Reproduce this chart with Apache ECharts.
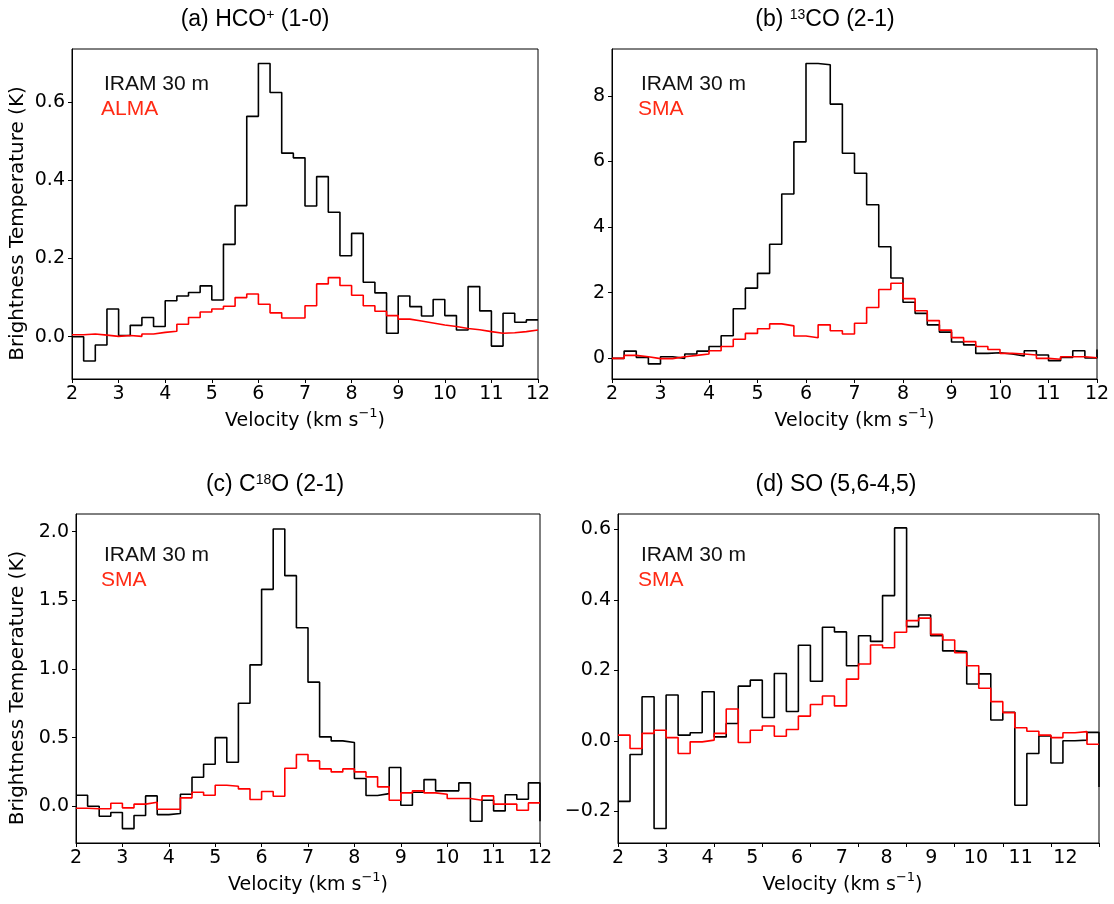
<!DOCTYPE html>
<html><head><meta charset="utf-8">
<script src="https://cdn.jsdelivr.net/npm/echarts@6/dist/echarts.min.js"></script>
<style>html,body{margin:0;padding:0;background:#fff}#c{width:1114px;height:904px}</style>
</head><body><div id="c"></div>
<script>
// ---- data (bin values, 0.25 km/s bins starting at 2 km/s) ----
const binStart = 2.0;
const binWidth = 0.25;
const nBins = 40;

const hcoIram = [0.000,-0.062,-0.021,0.071,0.003,0.029,0.049,0.026,0.092,0.104,
  0.113,0.130,0.094,0.236,0.335,0.563,0.698,0.624,0.469,0.457,
  0.334,0.409,0.318,0.207,0.264,0.139,0.112,0.009,0.104,0.077,
  0.053,0.095,0.054,0.017,0.128,0.066,-0.024,0.060,0.037,0.043];
const hcoAlma = [0.005,0.007,0.004,0.001,0.003,0.001,0.007,0.011,0.014,0.032,
  0.049,0.063,0.071,0.078,0.100,0.109,0.083,0.061,0.048,0.048,
  0.079,0.135,0.151,0.131,0.106,0.079,0.065,0.054,0.045,0.040,
  0.035,0.030,0.026,0.021,0.018,0.013,0.009,0.010,0.013,0.017];

const co13Iram = [0.00,0.22,0.03,-0.17,0.05,0.00,0.13,0.22,0.36,0.69,
  1.51,2.14,2.59,3.48,5.01,6.60,8.99,8.95,7.75,6.25,
  5.64,4.68,3.40,2.45,1.71,1.37,1.02,0.80,0.50,0.41,
  0.15,0.17,0.13,0.07,0.23,0.10,-0.07,0.03,0.23,0.01,
  0.27];
const co13Sma = [0.00,0.09,0.05,-0.01,-0.01,0.05,0.09,0.13,0.23,0.36,
  0.58,0.76,0.90,1.05,0.99,0.68,0.63,1.02,0.84,0.74,
  1.07,1.55,2.10,2.29,1.82,1.45,1.15,0.86,0.63,0.51,
  0.36,0.27,0.15,0.13,0.10,0.00,-0.03,0.05,0.05,0.02];

const c18oIram = [0.080,0.000,-0.073,-0.046,-0.163,-0.068,0.075,-0.061,-0.053,0.087,
  0.211,0.306,0.500,0.320,0.750,1.030,1.580,2.020,1.680,1.300,
  0.904,0.505,0.476,0.464,0.202,0.078,0.092,0.282,0.007,0.102,
  0.194,0.112,0.112,0.170,-0.109,0.044,-0.034,0.083,0.051,0.170,
  -0.109];
const c18oSma = [-0.015,-0.019,-0.019,0.022,-0.012,0.015,0.029,-0.022,-0.022,0.061,
  0.102,0.080,0.153,0.146,0.126,0.049,0.107,0.073,0.277,0.377,
  0.330,0.272,0.250,0.272,0.250,0.214,0.141,0.044,0.097,0.112,
  0.097,0.087,0.056,0.056,0.044,0.075,0.015,0.015,-0.029,0.024];

const soIram = [-0.172,-0.039,0.125,-0.249,0.130,0.016,0.023,0.139,0.011,0.049,
  0.155,0.172,0.066,0.191,0.083,0.271,0.169,0.322,0.309,0.213,
  0.298,0.282,0.412,0.604,0.324,0.357,0.298,0.255,0.253,0.161,
  0.190,0.059,0.081,-0.183,-0.036,0.014,-0.063,0.000,0.002,0.024,
  -0.131];
const soSma = [0.016,-0.022,0.021,0.030,0.009,-0.036,-0.003,0.002,0.021,0.090,
  -0.005,0.030,0.042,0.013,0.032,0.070,0.103,0.127,0.099,0.175,
  0.218,0.272,0.264,0.308,0.341,0.348,0.302,0.286,0.250,0.213,
  0.149,0.111,0.080,0.037,0.027,0.016,0.009,0.023,0.026,-0.010];

// ---- tick labels ----
const xTicks = [2,3,4,5,6,7,8,9,10,11,12];
const yTicksA = [0.0,0.2,0.4,0.6];
const yTicksB = [0,2,4,6,8];
const yTicksC = [0.0,0.5,1.0,1.5,2.0];
const yTicksD = [-0.2,0.0,0.2,0.4,0.6];

// ---- text ----
const panelTitles = ['(a) HCO{sup|+} (1-0)', '(b) {sup|13}CO (2-1)', '(c) C{sup|18}O (2-1)', '(d) SO (5,6-4,5)'];
const refLabels = ['IRAM 30 m', 'IRAM 30 m', 'IRAM 30 m', 'IRAM 30 m'];
const intLabels = ['ALMA', 'SMA', 'SMA', 'SMA'];
const xName = 'Velocity (km s{sup|\u22121})';
const yName = 'Brightness Temperature (K)';

const FONT_AX = 'DejaVu Sans';
const FONT_TXT = 'Liberation Sans';
const RED = '#ff0000';

function stepPoints(vals) {
  const pts = vals.map((v, i) => [binStart + i * binWidth, v]);
  if (vals.length === nBins) pts.push([binStart + nBins * binWidth, vals[nBins - 1]]);
  return pts;
}
const fmt1 = v => (v < 0 ? '\u2212' : '') + Math.abs(v).toFixed(1);
const fmt0 = v => (v < 0 ? '\u2212' : '') + Math.abs(Math.round(v));

const grids = [
  {left: 72, top: 49, width: 466, height: 330},
  {left: 612, top: 49, width: 485, height: 330},
  {left: 76, top: 514, width: 464, height: 329},
  {left: 618, top: 514, width: 481, height: 329}
].map(g => Object.assign({show: true, borderColor: '#000', borderWidth: 1, backgroundColor: 'transparent', outerBoundsMode: 'none'}, g));

const axLabel = {fontSize: 19, fontFamily: FONT_AX, color: '#000'};
const nameStyle = {fontSize: 19, fontFamily: FONT_AX, color: '#000', lineHeight: 28,
  rich: {sup: {fontSize: 13, fontFamily: FONT_AX, color: '#000', verticalAlign: 'top', lineHeight: 14}}};

function xAx(gi, opts) {
  return Object.assign({
    type: 'value', gridIndex: gi, min: 2, max: 12, position: 'bottom',
    splitLine: {show: false},
    axisLine: {show: true, onZero: false, lineStyle: {color: '#000', width: 1}},
    axisTick: {show: true, customValues: xTicks, length: 4, lineStyle: {color: '#000', width: 1}},
    axisLabel: Object.assign({customValues: xTicks, margin: 6}, axLabel),
    name: xName, nameLocation: 'middle', nameGap: 28, nameTextStyle: nameStyle
  }, opts || {});
}
function yAx(gi, min, max, ticks, fmt) {
  return {
    type: 'value', gridIndex: gi, min: min, max: max,
    splitLine: {show: false},
    axisLine: {show: true, onZero: false, lineStyle: {color: '#000', width: 1}},
    axisTick: {show: true, customValues: ticks, length: 4, lineStyle: {color: '#000', width: 1}},
    axisLabel: Object.assign({customValues: ticks, formatter: fmt, margin: 7}, axLabel)
  };
}

const xAxes = [
  xAx(0), xAx(1), xAx(2),
  // (d) data axis: ticks only
  xAx(3, {axisLabel: {show: false}, name: ''}),
  // (d) label axis: labels placed on a different scale, as in the reference
  xAx(3, {max: 12.75, axisLine: {show: false, onZero: false}, axisTick: {show: false},
          nameTextStyle: Object.assign({}, nameStyle, {padding: [0, 32, 0, 0]})})
];
const yAxes = [
  yAx(0, -0.108, 0.735, yTicksA, fmt1),
  yAx(1, -0.63, 9.43, yTicksB, fmt0),
  yAx(2, -0.268, 2.129, yTicksC, fmt1),
  yAx(3, -0.29, 0.6435, yTicksD, fmt1)
];

function line(xi, yi, vals, color) {
  return {type: 'line', xAxisIndex: xi, yAxisIndex: yi, data: stepPoints(vals), step: 'end',
    symbol: 'none', showSymbol: false, clip: true, silent: true,
    lineStyle: {color: color, width: 1.6}};
}
const series = [
  line(0, 0, hcoIram, '#000'), line(0, 0, hcoAlma, RED),
  line(1, 1, co13Iram, '#000'), line(1, 1, co13Sma, RED),
  line(2, 2, c18oIram, '#000'), line(2, 2, c18oSma, RED),
  line(3, 3, soIram, '#000'), line(3, 3, soSma, RED)
];

// ---- annotations ----
const titlePos = [[255, 20], [825, 20], [275, 485], [836, 485]];
const legPos = [[104, 84], [641, 84], [104, 555], [641, 555]];
const graphics = [];
panelTitles.forEach((t, i) => {
  graphics.push({type: 'text', x: titlePos[i][0], y: titlePos[i][1], z: 100,
    style: {text: t, fontSize: 23, fontFamily: FONT_TXT, fill: '#000',
      align: 'center', verticalAlign: 'middle', textAlign: 'center', textVerticalAlign: 'middle',
      rich: {sup: {fontSize: 14, fontFamily: FONT_TXT, fill: '#000', verticalAlign: 'top', lineHeight: 14}}}});
});
refLabels.forEach((t, i) => {
  graphics.push({type: 'text', x: legPos[i][0], y: legPos[i][1], z: 100,
    style: {text: t, fontSize: 21, fontFamily: FONT_TXT, fill: '#111',
      align: 'left', verticalAlign: 'middle', textAlign: 'left', textVerticalAlign: 'middle'}});
  graphics.push({type: 'text', x: legPos[i][0] - 3, y: legPos[i][1] + 25, z: 100,
    style: {text: intLabels[i], fontSize: 21, fontFamily: FONT_TXT, fill: '#ff2a14',
      align: 'left', verticalAlign: 'middle', textAlign: 'left', textVerticalAlign: 'middle'}});
});
[[17.5, 223.5], [17.5, 688]].forEach(p => {
  graphics.push({type: 'text', x: p[0], y: p[1], rotation: Math.PI / 2, z: 100,
    style: {text: yName, fontSize: 20, fontFamily: FONT_AX, fill: '#000',
      align: 'center', verticalAlign: 'middle', textAlign: 'center', textVerticalAlign: 'middle'}});
});

const chart = echarts.init(document.getElementById('c'), null, {renderer: 'canvas', width: 1114, height: 904});
chart.setOption({
  animation: false,
  backgroundColor: '#fff',
  grid: grids,
  xAxis: xAxes,
  yAxis: yAxes,
  series: series,
  graphic: graphics
});
</script>
</body></html>
